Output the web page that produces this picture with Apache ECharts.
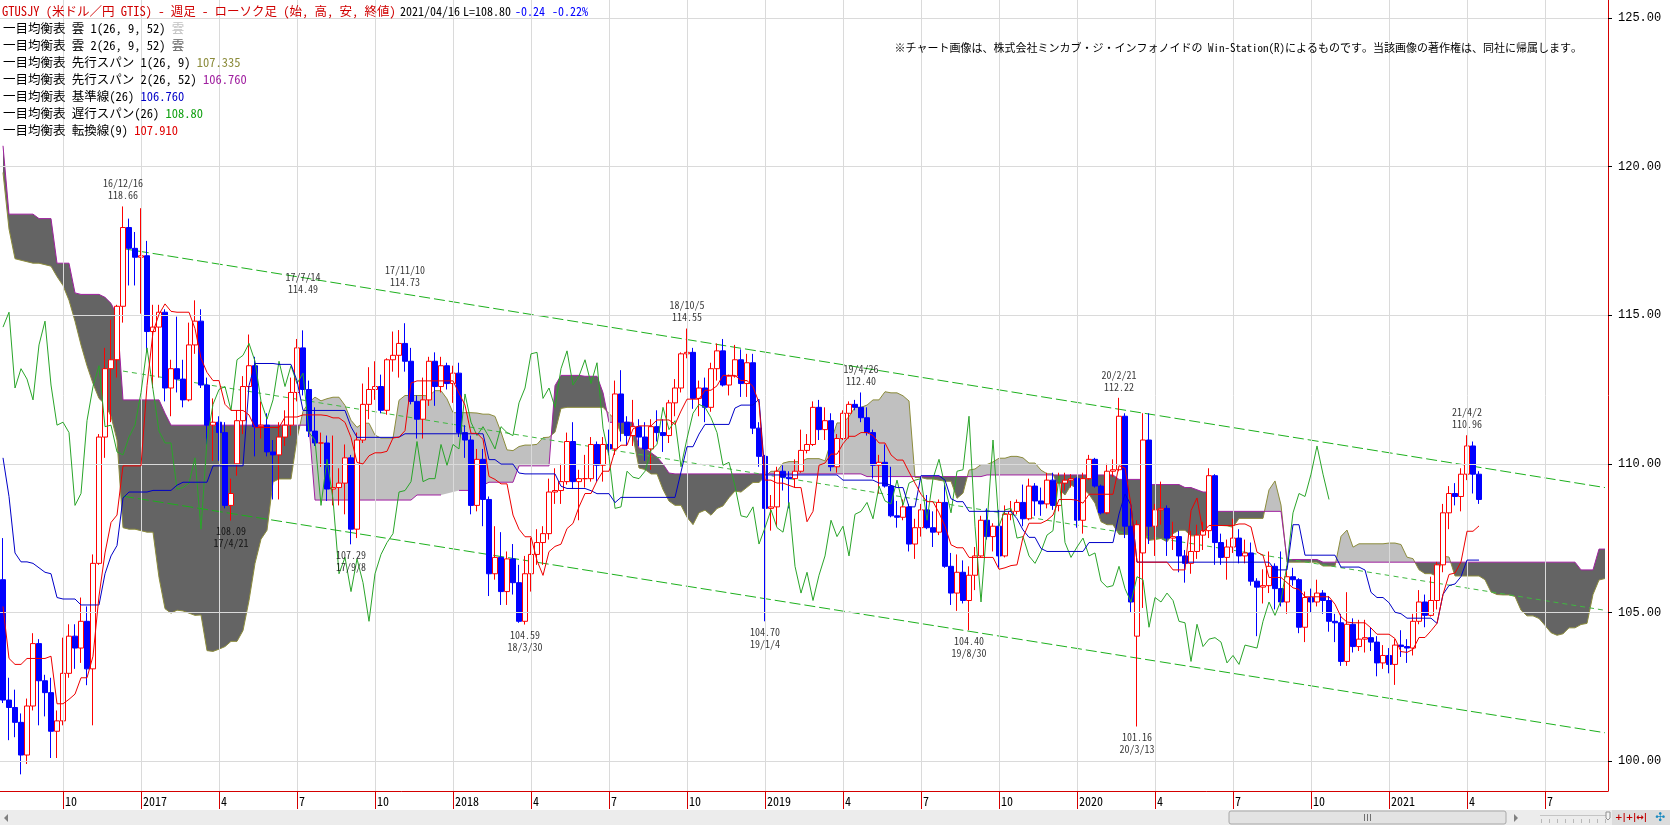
<!DOCTYPE html>
<html><head><meta charset="utf-8">
<script src="https://cdn.jsdelivr.net/npm/echarts@6/dist/echarts.min.js"></script>
<style>html,body{margin:0;padding:0;background:#fff;overflow:hidden}#c{width:1670px;height:825px}</style>
</head><body><div id="c"></div>
<script>
// ---- weekly bars (Friday dated), first bar 2016-07-29 ----
const START_DATE = [2016, 7, 29];
const N_CATEGORIES = 268;   // 247 bars + future weeks of the cloud
const opens = [106.1,102.05,101.8,101.3,100.2,101.85,103.95,102.7,102.3,101.0,
101.35,102.95,104.2,103.8,104.7,103.1,106.65,110.9,113.2,113.5,
115.3,117.95,117.25,116.95,117.0,114.45,114.6,115.1,112.55,113.2,
112.85,112.15,114.0,114.8,112.65,111.3,111.4,111.05,108.6,110.0,
111.45,112.6,113.3,111.25,111.3,110.4,110.3,110.9,111.3,112.4,
113.9,112.5,111.1,110.7,110.7,109.15,109.2,109.35,110.2,107.8,
110.8,112.0,112.5,112.6,111.8,113.5,113.65,114.05,113.45,112.1,
111.5,112.15,113.45,112.6,113.3,112.7,113.05,111.05,110.8,108.6,
110.15,108.8,106.3,106.85,105.7,106.8,106.0,104.7,106.3,106.95,
107.35,107.65,109.05,109.1,109.4,110.75,109.4,109.5,109.5,110.65,
109.95,110.65,110.5,112.35,111.4,110.95,111.25,110.9,110.5,111.25,
111.05,110.95,112.05,112.55,113.7,113.75,112.2,112.55,111.9,113.2,
113.8,112.65,112.95,113.5,112.7,113.4,111.2,110.25,108.5,108.55,
109.75,109.55,109.5,109.75,110.45,110.65,111.9,111.15,111.45,109.9,
110.85,111.7,112.0,111.9,111.55,111.05,109.95,110.05,109.25,108.25,
108.2,108.55,107.3,107.85,108.45,107.85,107.7,108.7,106.55,105.65,
106.35,105.4,106.25,106.9,108.1,107.55,107.9,106.9,108.3,108.4,
108.7,108.15,109.25,108.75,108.65,109.45,108.6,109.35,109.45,109.5,
108.1,109.5,110.15,109.25,108.35,109.75,109.8,111.6,107.9,104.2,
107.0,110.8,107.9,108.45,108.5,107.5,107.55,106.9,106.65,107.05,
107.6,107.75,109.6,107.35,106.85,107.2,107.5,106.9,107.0,106.05,
105.85,105.9,106.55,105.8,105.35,106.2,106.1,104.5,105.5,105.35,
105.65,105.4,104.7,104.65,103.35,104.6,103.85,104.1,104.15,104.0,
103.3,103.55,103.25,103.9,103.85,103.8,104.7,105.35,104.9,105.4,
106.6,108.35,109.0,108.9,109.65,110.6,109.65];
const highs = [107.5,102.8,102.4,101.6,102.1,104.3,104.1,102.9,102.8,101.7,
104.15,104.6,104.6,105.5,105.2,106.95,111.0,113.9,114.85,115.35,
118.66,118.25,117.8,118.6,117.5,115.35,115.35,115.2,113.5,114.95,
113.5,114.75,115.5,115.2,112.9,112.2,111.6,111.4,109.5,111.8,
112.95,114.35,113.6,112.1,111.7,110.8,111.4,111.8,112.9,114.2,
114.49,112.8,111.9,111.05,110.95,110.95,109.85,110.65,110.3,111.05,
112.7,113.25,113.45,113.0,113.55,114.45,114.5,114.73,113.9,112.3,
112.9,113.6,113.75,113.6,113.4,113.3,113.4,111.3,110.95,110.5,
110.5,108.9,107.9,107.7,107.05,107.3,106.6,106.9,107.5,107.8,
107.9,109.5,109.85,110.0,111.05,111.4,109.8,110.3,110.9,110.75,
110.9,111.15,112.8,113.15,111.6,112.15,111.5,111.4,111.5,111.8,
111.5,112.15,112.85,113.75,114.55,113.9,112.8,112.9,113.4,114.05,
114.2,113.0,114.0,113.85,113.7,113.7,111.4,110.3,108.95,109.9,
109.95,109.75,110.15,111.15,111.0,112.1,112.15,111.9,111.7,111.0,
111.8,112.1,112.15,112.4,111.9,111.15,110.3,110.65,109.9,108.75,
108.8,108.65,108.15,108.65,108.95,108.4,108.8,109.3,107.0,106.95,
106.75,106.55,107.2,108.25,108.5,108.0,108.45,108.6,108.75,108.8,
109.3,109.5,109.35,109.2,109.7,109.7,109.7,109.7,109.65,109.55,
109.7,110.3,110.2,109.3,110.0,110.15,112.22,111.7,108.5,108.1,
111.7,111.7,108.65,109.4,108.6,108.05,107.75,107.1,107.75,107.95,
108.05,109.85,109.65,107.65,107.45,108.15,107.8,107.45,107.35,106.15,
106.45,107.05,106.65,107.05,106.55,106.5,106.15,105.7,105.8,106.1,
105.75,105.55,104.95,104.95,105.68,104.8,104.75,104.75,104.5,104.2,
103.9,103.8,104.1,104.4,104.1,104.95,105.75,105.6,106.2,106.7,
108.65,109.25,109.35,109.85,110.96,110.75,109.75];
const lows = [101.95,100.7,100.8,99.55,99.9,101.7,101.2,101.5,100.1,100.1,
101.2,102.8,103.1,103.3,102.55,101.2,106.6,110.2,111.4,112.9,
114.75,116.0,116.0,115.05,113.75,112.55,112.9,112.1,111.6,112.4,
111.9,112.1,113.7,112.55,110.65,110.1,110.1,108.5,108.09,109.6,
111.0,112.5,110.25,110.85,110.25,108.8,108.8,110.6,110.95,112.1,
112.3,110.9,110.6,109.9,108.75,108.6,108.6,108.3,107.29,107.5,
110.7,111.5,112.15,111.7,111.65,113.1,112.9,113.1,112.0,110.85,
110.85,111.95,111.95,112.4,112.5,112.05,110.9,110.2,108.3,108.4,
107.9,105.55,106.1,105.25,105.25,105.6,104.65,104.59,105.7,106.6,
106.6,107.45,108.65,108.65,109.3,109.15,108.1,109.2,109.4,109.4,
109.4,110.3,110.3,110.75,110.6,110.6,110.6,110.1,109.8,110.75,
110.4,110.7,111.6,112.4,113.55,111.85,111.6,111.4,111.75,112.8,
112.6,112.3,112.9,112.25,112.25,111.0,109.9,104.7,107.75,107.9,
109.1,108.5,109.2,109.7,110.35,110.6,110.8,110.8,109.75,109.7,
110.8,110.85,111.8,111.4,110.95,109.5,109.0,109.2,108.2,107.85,
108.1,107.05,106.8,107.55,107.8,107.2,107.6,106.5,105.25,105.05,
105.3,104.4,105.75,106.85,107.45,107.05,106.5,106.85,108.1,108.3,
107.9,108.1,108.25,108.25,108.5,108.45,108.4,109.1,109.2,107.85,
107.65,109.45,109.2,108.3,108.3,109.55,109.75,107.5,105.0,101.16,
105.15,107.3,106.9,107.95,106.9,107.1,106.35,106.0,106.3,106.8,
107.1,107.5,106.6,106.6,106.1,107.0,106.65,106.65,105.9,104.2,
105.3,105.65,105.1,105.2,104.95,105.9,104.3,104.0,105.0,105.2,
104.95,104.35,104.0,103.2,103.2,103.65,103.7,103.65,103.7,102.85,
103.1,102.95,102.56,103.5,103.3,103.55,104.6,104.5,104.86,105.1,
106.35,107.8,108.6,108.4,109.45,109.0,108.65];
const closes = [102.05,101.8,101.3,100.2,101.85,103.95,102.7,102.3,101.0,101.35,
102.95,104.2,103.8,104.7,103.1,106.65,110.9,113.2,113.5,115.3,
117.95,117.25,116.95,117.0,114.45,114.6,115.1,112.55,113.2,112.85,
112.15,114.0,114.8,112.65,111.3,111.4,111.05,108.6,109.0,111.45,
112.6,113.3,111.25,111.3,110.4,110.3,110.9,111.3,112.4,113.9,
112.5,111.1,110.7,110.7,109.15,109.2,109.35,110.2,107.8,110.8,
112.0,112.5,112.6,111.8,113.5,113.65,114.05,113.45,112.1,111.5,
112.15,113.45,112.6,113.3,112.7,113.05,111.05,110.8,108.6,110.15,
108.8,106.3,106.85,105.7,106.8,106.0,104.7,106.3,106.95,107.35,
107.65,109.05,109.1,109.4,110.75,109.4,109.5,109.5,110.65,109.95,
110.65,110.5,112.35,111.4,110.95,111.25,110.9,110.5,111.25,111.05,
110.95,112.05,112.55,113.7,113.75,112.2,112.55,111.9,113.2,113.8,
112.65,112.95,113.5,112.7,113.4,111.2,110.25,108.5,108.55,109.75,
109.55,109.5,109.75,110.45,110.65,111.9,111.15,111.45,109.9,110.85,
111.7,112.0,111.9,111.55,111.05,109.95,110.05,109.25,108.25,108.2,
108.55,107.3,107.85,108.45,107.85,107.7,108.7,106.55,105.65,106.35,
105.4,106.25,106.9,108.1,107.55,107.9,106.9,108.3,108.4,108.7,
108.15,109.25,108.75,108.65,109.45,108.6,109.35,109.45,109.5,108.1,
109.5,110.15,109.25,108.35,109.75,109.8,111.6,107.9,105.35,107.95,
110.8,107.9,108.45,108.5,107.5,107.55,106.9,106.65,107.05,107.6,
107.75,109.6,107.35,106.85,107.2,107.5,106.9,107.0,106.05,105.85,
105.9,106.55,105.8,105.35,106.2,106.1,104.5,105.5,105.35,105.65,
105.4,104.7,104.65,103.35,104.6,103.85,104.1,104.15,104.0,103.3,
103.55,103.25,103.9,103.85,103.8,104.7,105.35,104.9,105.4,106.6,
108.35,109.0,108.9,109.65,110.6,109.65,108.8];

// Ichimoku values at the start of the view (their history is outside the picture)
const tenkanEarly = [105.2,103.45,103.25,103.25,103.45,103.45,103.45,103.45];
const kijunEarly = [110.2,108.9,107.0,106.7,106.7,106.65,106.5,106.35,106.3,105.5,105.45,105.45,105.45,105.25,105.25,105.25,105.25,106.3,106.9,107.25,108.85,109.05,109.05,109.05,109.05];
const spanAEarly = [119.8,117.9,116.9,116.85,116.8,116.75,116.75,116.7,116.65,116.3,116.0,115.5,114.8,114.0,113.3,112.7,112.2,112.0,111.6,110.8,107.85,107.8,107.8,107.75,107.7];
const spanBEarly = [120.7,118.4,118.4,118.4,118.4,118.4,118.25,118.25,118.25,116.75,116.75,116.75,115.75,115.7,115.7,115.7,115.7,115.6,115.4,115.0,
112.15,112.15,112.15,112.15,112.15,112.15,112.15,111.7,111.3,111.3,111.3,111.3,111.3,111.3,111.3,111.3,111.3,111.3,111.3,111.3,
111.3,111.3,111.3,111.3,111.3,111.3,111.3,111.3,111.3,111.3,111.3,111.3,108.78,108.78,108.78,108.78,108.78,108.78,108.78,108.78,
108.78,108.78,108.78,108.78,108.78,108.78,108.78,108.78,108.78,108.95,108.95,108.95,108.95,108.95];

// axis ticks
const xTickDates = ['2016-10-07','2017-01-06','2017-04-07','2017-07-07','2017-10-06','2018-01-05','2018-04-06','2018-07-06','2018-10-05','2019-01-04','2019-04-05','2019-07-05','2019-10-04','2020-01-03','2020-04-03','2020-07-03','2020-10-02','2021-01-01','2021-04-02','2021-07-02'];
const xTickLabels = ['10','2017','4','7','10','2018','4','7','10','2019','4','7','10','2020','4','7','10','2021','4','7'];
const yTicks = [100,105,110,115,120,125];

// annotations
const peakDates = ['16/12/16','17/7/14','17/11/10','18/10/5','19/4/26','20/2/21','21/4/2'];
const peakValues = [118.66,114.49,114.73,114.55,112.40,112.22,110.96];
const troughDates = ['17/4/21','17/9/8','18/3/30','19/1/4','19/8/30','20/3/13'];
const troughValues = [108.09,107.29,104.59,104.70,104.40,101.16];

// trend channel (start date, end date, values)
const trendDates = ['2016-12-16','2021-09-10'];
const trendTop = [117.24,109.20];
const trendMid = [113.12,105.07];
const trendBot = [108.91,100.95];

// header texts
const titleText = 'GTUSJY (米ドル／円 GTIS) - 週足 - ローソク足 (始, 高, 安, 終値)';
const dateText = '2021/04/16';
const lastText = 'L=108.80';
const chgText = '-0.24';
const pctText = '-0.22%';
const legendLabels = ['一目均衡表 雲 1(26, 9, 52) ','一目均衡表 雲 2(26, 9, 52) ','一目均衡表 先行スパン 1(26, 9) ','一目均衡表 先行スパン 2(26, 52) ','一目均衡表 基準線(26) ','一目均衡表 遅行スパン(26) ','一目均衡表 転換線(9) '];
const legendValues = ['雲','雲','107.335','106.760','106.760','108.80','107.910'];
const copyText = '※チャート画像は、株式会社ミンカブ・ジ・インフォノイドの Win-Station(R)によるものです。当該画像の著作権は、同社に帰属します。';

// colours
const C_UP = '#ff0000', C_DN = '#0000ff', C_TENKAN = '#ee0000', C_KIJUN = '#0000c8', C_CHIKOU = '#2aa52a',
      C_SPANA = '#8c8c3c', C_SPANB = '#a020a0', C_LIGHT = '#c0c0c0', C_DARK = '#646464', C_AXIS = '#d40000', C_GRID = '#dadada';
const legendColors = [C_LIGHT, C_DARK, C_SPANA, C_SPANB, C_KIJUN, '#10a010', '#e00000'];
// label gaps (px) for the high annotations; two are lifted above the trend line as in the original
const peakLabelGap = [4, 34, 34, 4, 4, 4, 4];

// ---- build ----
const cats = [];
{ const t0 = Date.UTC(START_DATE[0], START_DATE[1]-1, START_DATE[2]);
  for (let i = 0; i < N_CATEGORIES; i++) cats.push(new Date(t0 + i*7*86400000).toISOString().slice(0,10)); }
const n = closes.length;
const r3 = v => Math.round(v*1000)/1000;
function hiLoMid(end, len){ let hi=-Infinity, lo=Infinity; for(let k=end-len+1;k<=end;k++){ if(highs[k]>hi)hi=highs[k]; if(lows[k]<lo)lo=lows[k]; } return (hi+lo)/2; }
const tenkan = closes.map((c,i)=> i<8 ? tenkanEarly[i] : r3(hiLoMid(i,9)));
const kijun = closes.map((c,i)=> i<25 ? kijunEarly[i] : r3(hiLoMid(i,26)));
const spanA = cats.map((c,j)=> j<25 ? spanAEarly[j] : r3((tenkan[j-25]+kijun[j-25])/2));
const spanB = cats.map((c,j)=> j<76 ? spanBEarly[j] : r3(hiLoMid(j-25,52)));
const chikou = cats.map((c,j)=> j+25<n ? closes[j+25] : null);
const candles = opens.map((o,i)=>[o, closes[i], lows[i], highs[i]]);
const tickIdx = new Set(xTickDates.map(d=>cats.indexOf(d)));
const tickLabelOf = {}; xTickDates.forEach((d,k)=>tickLabelOf[d]=xTickLabels[k]);
const toCat = s => { const p = s.split('/'); return '20'+p[0]+'-'+p[1].padStart(2,'0')+'-'+p[2].padStart(2,'0'); };

function renderCloud(params, api){
  const X = i => api.coord([i, spanA[i]])[0];
  const Y = v => api.coord([0, v])[1];
  const runs = []; let run = null;
  for (let i=0;i<spanA.length;i++){
    const a=spanA[i], b=spanB[i], d=a-b;
    const s = d>0?1:(d<0?-1:(run?run.s:1));
    const px = X(i);
    if(!run){ run={s, top:[[px,Y(a)]], bot:[[px,Y(b)]]}; runs.push(run); continue; }
    if(s===run.s){ run.top.push([px,Y(a)]); run.bot.push([px,Y(b)]); }
    else {
      const ap=spanA[i-1], bp=spanB[i-1], dp=ap-bp;
      const t = dp/(dp-d);
      const xp = X(i-1), xc = xp+(px-xp)*t, yc = Y(ap+(a-ap)*t);
      run.top.push([xc,yc]); run.bot.push([xc,yc]);
      run = {s, top:[[xc,yc],[px,Y(a)]], bot:[[xc,yc],[px,Y(b)]]}; runs.push(run);
    }
  }
  return {type:'group', children: runs.map(r=>({type:'polygon', shape:{points:r.top.concat(r.bot.slice().reverse())}, style:{fill: r.s>0?C_LIGHT:C_DARK}}))};
}

const JP = '"Noto Sans Mono CJK JP", "Noto Sans CJK JP", monospace';
const lineS = (name, data, color, z, extra) => Object.assign({type:'line', name, data, symbol:'none', z, silent:true,
  lineStyle:{color, width:1}, connectNulls:false}, extra||{});
const txt = (x, y, text, fill, size, extra) => ({type:'text', x, y, z:100, style:Object.assign({text, fill, font:size+'px '+JP, verticalAlign:'middle', textVerticalAlign:'middle'}, extra||{})});

const graphics = [];
graphics.push(txt(2, 11, titleText, '#d00000', 12.5));
graphics.push(txt(400, 11, dateText, '#000', 12));
graphics.push(txt(463, 11, lastText, '#000', 12));
graphics.push(txt(515, 11, chgText, '#0000ff', 12));
graphics.push(txt(552, 11, pctText, '#0000ff', 12));
legendLabels.forEach((t,k)=>{
  graphics.push(txt(3, 28+17*k, '{k|'+t+'}{v|'+legendValues[k]+'}', '#000', 12.5,
    {rich:{k:{fill:'#000', color:'#000', font:'12.5px '+JP}, v:{fill:legendColors[k], color:legendColors[k], font:'12.5px '+JP}}}));
});
graphics.push(txt(1582, 48, copyText, '#000', 11, {align:'right', textAlign:'right'}));
// scroll bar strip
graphics.push({type:'rect', shape:{x:0,y:810,width:1670,height:15}, style:{fill:'#ececec'}, z:0});
graphics.push({type:'polygon', shape:{points:[[8,814],[8,822],[4,818]]}, style:{fill:'#808080'}});
graphics.push({type:'rect', shape:{x:1229,y:811,width:277,height:13,r:2}, style:{fill:'#e3e3e3', stroke:'#a8a8a8', lineWidth:1}});
[1364,1367,1370].forEach(x=>graphics.push({type:'line', shape:{x1:x+0.5,y1:814,x2:x+0.5,y2:821}, style:{stroke:'#707070', lineWidth:1}}));
graphics.push({type:'polygon', shape:{points:[[1514,814],[1514,822],[1518,818]]}, style:{fill:'#808080'}});
graphics.push({type:'line', shape:{x1:1540,y1:815.5,x2:1607,y2:815.5}, style:{stroke:'#c4c4c4', lineWidth:1}});
for (let x=1541;x<=1605;x+=8) graphics.push({type:'line', shape:{x1:x+0.5,y1:819,x2:x+0.5,y2:823}, style:{stroke:'#b8b8b8', lineWidth:1}});
graphics.push({type:'polygon', shape:{points:[[1606,812],[1610,812],[1610,818],[1608,820],[1606,818]]}, style:{fill:'#f4f4f4', stroke:'#909090', lineWidth:1}});
graphics.push({type:'rect', shape:{x:1612,y:810,width:58,height:15}, style:{fill:'#dcdcdc'}});
graphics.push({type:'text', x:1615, y:818, style:{text:'+|+', fill:'#c00000', font:'bold 9px "DejaVu Sans"', verticalAlign:'middle', textVerticalAlign:'middle'}});
graphics.push({type:'text', x:1633, y:818, style:{text:'|↔|', fill:'#c00000', font:'bold 9px "DejaVu Sans"', verticalAlign:'middle', textVerticalAlign:'middle'}});
graphics.push({type:'text', x:1655, y:818, style:{text:'✣', fill:'#1a8ac0', font:'12px "DejaVu Sans"', verticalAlign:'middle', textVerticalAlign:'middle'}});

const annLabel = {show:true, color:'#000', fontFamily:'"Noto Sans Mono CJK JP", "Liberation Mono", monospace', fontSize:10, lineHeight:12, align:'center'};
const option = {
  animation:false,
  backgroundColor:'#ffffff',
  grid:{left:0, right:62, top:0, bottom:34, containLabel:false},
  xAxis:{type:'category', data:cats, boundaryGap:true,
    axisLine:{show:true, lineStyle:{color:C_AXIS, width:1}},
    axisTick:{show:true, alignWithLabel:true, interval:(i)=>tickIdx.has(i), length:18, lineStyle:{color:C_AXIS, width:1}},
    axisLabel:{show:true, interval:(i)=>tickIdx.has(i), formatter:(v)=>tickLabelOf[v]||'', align:'left', margin:4, padding:[0,0,0,2],
      color:'#000', fontFamily:'"Noto Sans Mono CJK JP", "Liberation Mono", monospace', fontSize:12},
    splitLine:{show:false}},
  yAxis:{type:'value', position:'right', min:98.99, max:125.606, scale:true,
    axisLine:{show:true, lineStyle:{color:C_AXIS, width:1}},
    axisTick:{show:true, customValues:yTicks, length:4, lineStyle:{color:'#000'}},
    axisLabel:{show:true, customValues:yTicks, formatter:(v)=>Number(v).toFixed(2), margin:10, color:'#000',
      fontFamily:'"Liberation Mono", monospace', fontSize:12},
    splitLine:{show:false}},
  graphic:{elements:graphics},
  series:[
    {type:'line', name:'grid', data:cats.map(()=>null), symbol:'none', z:0, silent:true,
      markLine:{silent:true, symbol:'none', animation:false, label:{show:false}, lineStyle:{color:C_GRID, width:1, type:'solid'},
        data:[...xTickDates.map(d=>({xAxis:d})), ...yTicks.map(v=>({yAxis:v}))]}},
    {type:'custom', name:'cloud', coordinateSystem:'cartesian2d', renderItem:renderCloud, data:[[0,110]], z:1, silent:true, clip:true},
    lineS('先行スパン1', spanA, C_SPANA, 2),
    lineS('先行スパン2', spanB, C_SPANB, 2),
    lineS('trendTop', [[trendDates[0],trendTop[0]],[trendDates[1],trendTop[1]]], '#1cb01c', 3, {lineStyle:{color:'#1cb01c', width:1, type:[11,4]}}),
    lineS('trendMid', [[trendDates[0],trendMid[0]],[trendDates[1],trendMid[1]]], '#40b840', 3, {lineStyle:{color:'#40b840', width:1, type:[5,4]}}),
    lineS('trendBot', [[trendDates[0],trendBot[0]],[trendDates[1],trendBot[1]]], '#1cb01c', 3, {lineStyle:{color:'#1cb01c', width:1, type:[11,4]}}),
    {type:'candlestick', name:'price', data:candles, barWidth:5, z:4, silent:true,
      itemStyle:{color:'#ffffff', color0:C_DN, borderColor:C_UP, borderColor0:C_DN, borderWidth:1},
      markLine:{silent:true, symbol:'none', animation:false, lineStyle:{opacity:0},
        data:[{yAxis:closes[n-1]}],
        label:{show:true, position:'end', distance:10, formatter:closes[n-1].toFixed(2), color:'#fff', backgroundColor:'#0000ff',
          padding:[2,3,1,3], fontFamily:'"Liberation Mono", monospace', fontSize:12}}},
    lineS('遅行スパン', chikou, C_CHIKOU, 5),
    lineS('基準線', kijun, C_KIJUN, 5),
    lineS('転換線', tenkan, C_TENKAN, 6),
    {type:'scatter', name:'peaks', symbol:'circle', symbolSize:2, itemStyle:{color:'rgba(0,0,0,0)'}, z:8, silent:true,
      data:peakDates.map((d,k)=>({value:[toCat(d), peakValues[k]], label:{formatter:d+'\n'+peakValues[k].toFixed(2), distance:peakLabelGap[k]}})),
      label:Object.assign({position:'top', distance:4}, annLabel)},
    {type:'scatter', name:'troughs', symbol:'circle', symbolSize:2, itemStyle:{color:'rgba(0,0,0,0)'}, z:8, silent:true,
      data:troughDates.map((d,k)=>({value:[toCat(d), troughValues[k]], label:{formatter:troughValues[k].toFixed(2)+'\n'+d}})),
      label:Object.assign({position:'bottom', distance:4}, annLabel)}
  ]
};
const chart = echarts.init(document.getElementById('c'), null, {renderer:'canvas', width:1670, height:825});
chart.setOption(option);
</script></body></html>
